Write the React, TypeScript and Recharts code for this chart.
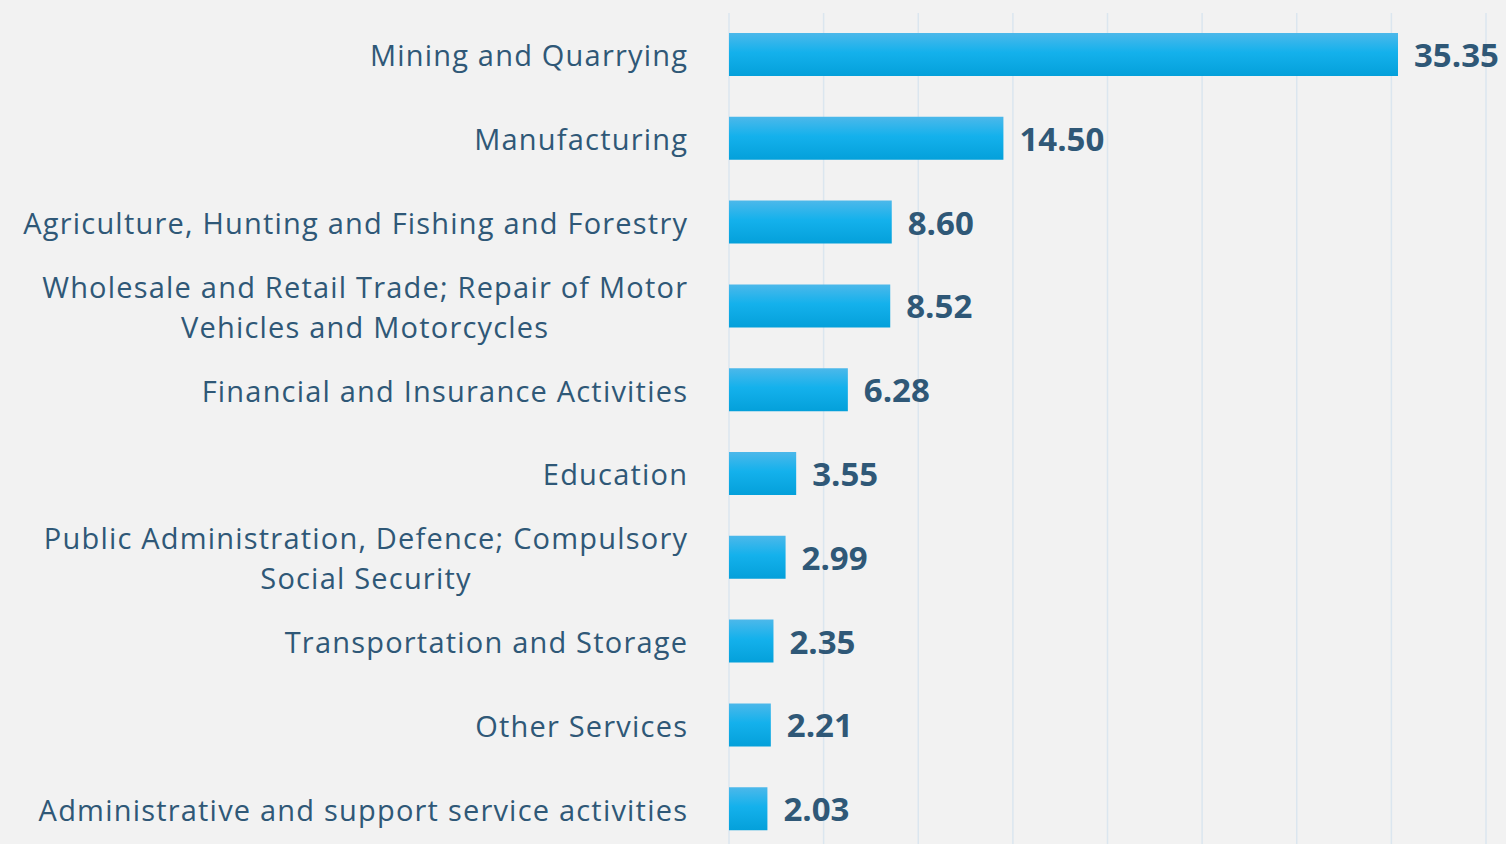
import React from "react";
import { BarChart, Bar, XAxis, YAxis, CartesianGrid, LabelList } from "recharts";

const categories = [
  "Mining and Quarrying",
  "Manufacturing",
  "Agriculture, Hunting and Fishing and Forestry",
  "Wholesale and Retail Trade; Repair of Motor\nVehicles and Motorcycles",
  "Financial and Insurance Activities",
  "Education",
  "Public Administration, Defence; Compulsory\nSocial Security",
  "Transportation and Storage",
  "Other Services",
  "Administrative and support service activities",
];

const values = [35.35, 14.5, 8.6, 8.52, 6.28, 3.55, 2.99, 2.35, 2.21, 2.03];

const xTicks = [0, 5, 10, 15, 20, 25, 30, 35, 40];

const data = categories.map((name, i) => ({ name, value: values[i] }));

const TEXT_COLOR = "#2f5877";
const FONT = "'Open Sans', 'Noto Sans', sans-serif";
const LABEL_SIZE = 29;
const LABEL_SPACING = 1.2;
const VALUE_SIZE = 33;

let ctx: CanvasRenderingContext2D | null = null;
function measure(s: string): number {
  if (!ctx && typeof document !== "undefined") {
    ctx = document.createElement("canvas").getContext("2d");
  }
  if (!ctx) return s.length * LABEL_SIZE * 0.55;
  ctx.font = `${LABEL_SIZE}px 'Open Sans'`;
  return ctx.measureText(s).width + s.length * LABEL_SPACING;
}

const CategoryTick = (props: any) => {
  const { x, y, payload } = props;
  const lines: string[] = String(payload.value).split("\n");
  const right = x - 34 + LABEL_SPACING;
  if (lines.length === 1) {
    return (
      <text
        x={right}
        y={y}
        textAnchor="end"
        dominantBaseline="central"
        fill={TEXT_COLOR}
        fontFamily={FONT}
        fontSize={LABEL_SIZE}
        letterSpacing={LABEL_SPACING}
      >
        {lines[0]}
      </text>
    );
  }
  const maxW = Math.max(...lines.map(measure));
  const cx = right - maxW / 2;
  const lineH = 40;
  const start = y - ((lines.length - 1) * lineH) / 2;
  return (
    <g>
      {lines.map((l, i) => (
        <text
          key={i}
          x={cx}
          y={start + i * lineH}
          textAnchor="middle"
          dominantBaseline="central"
          fill={TEXT_COLOR}
          fontFamily={FONT}
          fontSize={LABEL_SIZE}
          letterSpacing={LABEL_SPACING}
        >
          {l}
        </text>
      ))}
    </g>
  );
};

const ValueLabel = (props: any) => {
  const { x, y, width, height, value } = props;
  return (
    <text
      x={x + width + 16}
      y={y + height / 2}
      textAnchor="start"
      dominantBaseline="central"
      fill={TEXT_COLOR}
      fontFamily={FONT}
      fontWeight="bold"
      fontSize={VALUE_SIZE}
    >
      {Number(value).toFixed(2)}
    </text>
  );
};

export default function App() {
  return (
    <div
      style={{
        position: "fixed",
        left: 0,
        top: 0,
        width: 1506,
        height: 844,
        overflow: "hidden",
        background: "#f2f2f2",
      }}
    >
      <BarChart
        width={1506}
        height={870}
        data={data}
        layout="vertical"
        margin={{ top: 13, right: 20, bottom: 19, left: 0 }}
      >
        <defs>
          <linearGradient id="barGrad" x1="0" y1="0" x2="0" y2="1">
            <stop offset="0%" stopColor="#4cb8ea" />
            <stop offset="45%" stopColor="#14b1ec" />
            <stop offset="100%" stopColor="#04a0da" />
          </linearGradient>
        </defs>
        <CartesianGrid horizontal={false} stroke="#dbe6ef" strokeWidth={1.5} />
        <XAxis type="number" domain={[0, 40]} ticks={xTicks} hide />
        <YAxis
          type="category"
          dataKey="name"
          width={729}
          axisLine={false}
          tickLine={false}
          tick={<CategoryTick />}
          interval={0}
        />
        <Bar dataKey="value" fill="url(#barGrad)" barSize={43} isAnimationActive={false}>
          <LabelList dataKey="value" content={<ValueLabel />} />
        </Bar>
      </BarChart>
    </div>
  );
}
